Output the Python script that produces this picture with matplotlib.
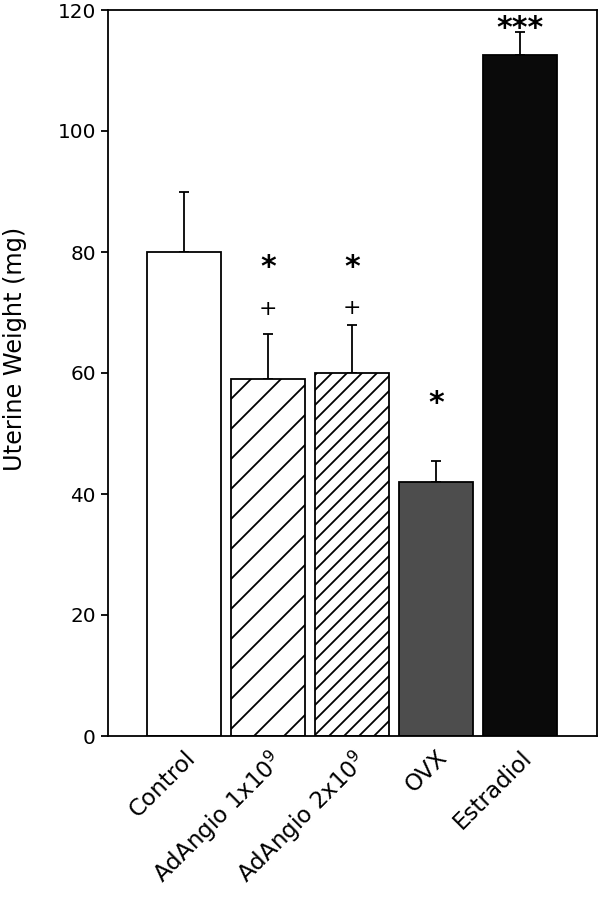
import matplotlib
matplotlib.use("Agg")
import matplotlib.pyplot as plt

# data
groups = ["Control", "AdAngio 1x10$^{9}$", "AdAngio 2x10$^{9}$", "OVX", "Estradiol"]
weight = [80.0, 59.0, 60.0, 42.0, 112.5]
sem = [10.0, 7.5, 8.0, 3.5, 3.8]
star_marks = ["", "*", "*", "*", "***"]
star_y = [0, 77.5, 77.5, 55.0, 116.9]
plus_marks = ["", "+", "+", "", ""]
plus_y = [0, 70.5, 70.7, 0, 0]

fills = ["white", "white", "white", "#4d4d4d", "#0a0a0a"]
hatches = ["", "//", "////", "", ""]

DPI = 180  # high dpi so the hatch tile gets big (sparse hatching like the scan)


def pt(px):
    return px * 72.0 / DPI


plt.rcParams["font.family"] = ["DejaVu Sans"]
plt.rcParams["mathtext.default"] = "regular"
plt.rcParams["hatch.linewidth"] = pt(1.8)

fig = plt.figure(figsize=(605 / DPI, 899 / DPI), dpi=DPI)
ax = fig.add_axes([108 / 605, 163 / 899, 489 / 605, 726 / 899])

x = list(range(len(groups)))
bars = ax.bar(x, weight, width=0.87, color=fills, edgecolor="black",
              linewidth=pt(1.8), zorder=2)
for b, h in zip(bars, hatches):
    b.set_hatch(h)

ax.errorbar(x, weight, yerr=[[0] * len(sem), sem], fmt="none", ecolor="black",
            elinewidth=pt(1.8), capsize=pt(5), capthick=pt(1.8), zorder=1)

for i in x:
    if star_marks[i]:
        ax.text(i, star_y[i], star_marks[i], ha="center", va="center",
                fontsize=pt(30), fontweight="bold")
    if plus_marks[i]:
        ax.text(i, plus_y[i], plus_marks[i], ha="center", va="center",
                fontsize=pt(22))

ax.set_xlim(-0.905, 4.917)
ax.set_ylim(0, 120)
ax.set_yticks(range(0, 121, 20))
ax.set_xticks(x)
ax.set_xticklabels(groups, rotation=45, ha="right", va="top",
                   rotation_mode="anchor", fontsize=pt(23))
ax.tick_params(axis="x", length=0, pad=pt(10))
ax.tick_params(axis="y", direction="out", length=pt(7), width=pt(1.8),
               labelsize=pt(20), pad=pt(5))
for s in ax.spines.values():
    s.set_linewidth(pt(1.8))
ax.set_ylabel("Uterine Weight (mg)", fontsize=pt(24))
ax.yaxis.set_label_coords(-0.166, 0.533)

fig.savefig("out.png", dpi=DPI)
